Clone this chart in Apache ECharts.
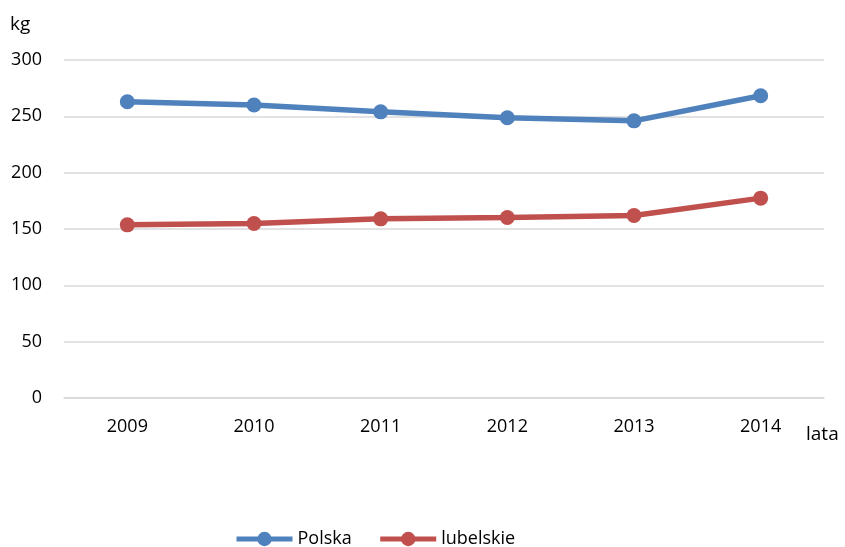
<!DOCTYPE html>
<html><head><meta charset="utf-8">
<script src="https://cdn.jsdelivr.net/npm/echarts@6/dist/echarts.min.js"></script>
<style>html,body{margin:0;padding:0;background:#fff}#c{width:845px;height:547px}</style>
</head><body><div id="c"></div>
<script>
const categories = ['2009','2010','2011','2012','2013','2014'];
const polska = [263, 260, 254, 248.8, 246, 268.3];
const lubelskie = [153.7, 154.9, 159, 160.2, 162, 177.4];
const yTicks = {min: 0, max: 300, interval: 50};
const FONT = 'Open Sans';
const chart = echarts.init(document.getElementById('c'));
chart.setOption({
  animation: false,
  textStyle: {fontFamily: FONT},
  grid: {left: 64, right: 21, top: 60, bottom: 149, containLabel: false, outerBoundsMode: 'none'},
  legend: {
    top: 525, left: 229, itemWidth: 56, itemHeight: 18, itemGap: 26,
    textStyle: {fontSize: 18, color: '#000', fontFamily: FONT},
    lineStyle: {width: 5},
    data: ['Polska','lubelskie']
  },
  xAxis: {
    type: 'category', data: categories, boundaryGap: true,
    name: 'lata', nameLocation: 'end', nameGap: -18,
    nameTextStyle: {fontSize: 19, color: '#000', align: 'left', verticalAlign: 'top', padding: [27,0,0,0]},
    axisLine: {show: true, lineStyle: {color: '#d9d9d9', width: 1.5}},
    axisTick: {show: false},
    axisLabel: {fontSize: 18, color: '#000', margin: 20}
  },
  yAxis: {
    type: 'value', min: yTicks.min, max: yTicks.max, interval: yTicks.interval,
    name: 'kg', nameLocation: 'end', nameGap: 26,
    nameTextStyle: {fontSize: 19, color: '#000', align: 'left', padding: [0, 0, 0, -54]},
    axisLine: {show: false}, axisTick: {show: false},
    axisLabel: {fontSize: 18, color: '#000', margin: 22},
    splitLine: {lineStyle: {color: '#d9d9d9', width: 1.5}}
  },
  series: [
    {name: 'Polska', type: 'line', data: polska, symbol: 'circle', symbolSize: 15,
     lineStyle: {width: 5.5, color: '#4f81bd'}, itemStyle: {color: '#4f81bd'}},
    {name: 'lubelskie', type: 'line', data: lubelskie, symbol: 'circle', symbolSize: 15,
     lineStyle: {width: 5.5, color: '#c0504d'}, itemStyle: {color: '#c0504d'}}
  ]
});
</script></body></html>
